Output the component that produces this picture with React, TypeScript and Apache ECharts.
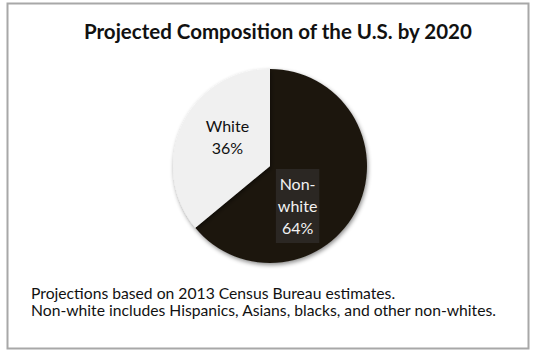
import React, { useEffect, useRef } from "react";
import * as echarts from "echarts";

const titleText = "Projected Composition of the U.S. by 2020";
const categories = ["Non-\nwhite", "White"];
const values = [64, 36];
const sliceColors = ["#1d1810", "#f0f0f0"];
const notes = [
  "Projections based on 2013 Census Bureau estimates.",
  "Non-white includes Hispanics, Asians, blacks, and other non-whites.",
];

const FONT = "Lato";

export default function App() {
  const ref = useRef<HTMLDivElement>(null);
  useEffect(() => {
    document.body.style.margin = "0";
    const chart = echarts.init(ref.current!, null, { renderer: "svg" });
    chart.setOption({
      animation: false,
      backgroundColor: "#ffffff",
      title: {
        text: titleText,
        left: 79,
        top: 15,
        textStyle: { fontFamily: FONT, fontSize: 20.5, fontWeight: "bold", color: "#111" },
      },
      graphic: [
        {
          type: "rect",
          shape: { x: 7.5, y: 3.5, width: 521, height: 345 },
          style: { fill: "none", stroke: "#a8a8a8", lineWidth: 2 },
          silent: true,
        },
        ...notes.map((t, i) => ({
          type: "text",
          left: 31,
          top: 285 + i * 17,
          style: { text: t, fontFamily: FONT, fontSize: 15.7, fill: "#111" },
        })),
      ],
      series: [
        {
          type: "pie",
          center: [270, 166],
          radius: [0, 97],
          startAngle: 90,
          clockwise: true,
          data: categories.map((c, i) => ({
            name: c,
            value: values[i],
            itemStyle: { color: sliceColors[i] },
            label:
              i === 0
                ? {
                    color: "#f2f2f2",
                    backgroundColor: "#2b2723",
                    padding: [4, 2, 4, 2],
                  }
                : { color: "#111" },
          })),
          itemStyle: {
            borderColor: "#fff",
            borderWidth: 0,
            shadowBlur: 4,
            shadowColor: "rgba(0,0,0,0.45)",
            shadowOffsetX: 1,
            shadowOffsetY: 2,
          },
          label: {
            show: true,
            position: "inside",
            formatter: (p: any) => `${p.name}\n${p.value}%`,
            fontFamily: FONT,
            fontSize: 16,
            lineHeight: 22,
          },
          labelLayout: (p: any) =>
            p.dataIndex === 0 ? { dx: -19, dy: 18 } : { dx: 4, dy: -8 },
          labelLine: { show: false },
          emphasis: { disabled: true },
        },
      ],
    });
    return () => chart.dispose();
  }, []);
  return <div ref={ref} style={{ width: 533, height: 350 }} />;
}
